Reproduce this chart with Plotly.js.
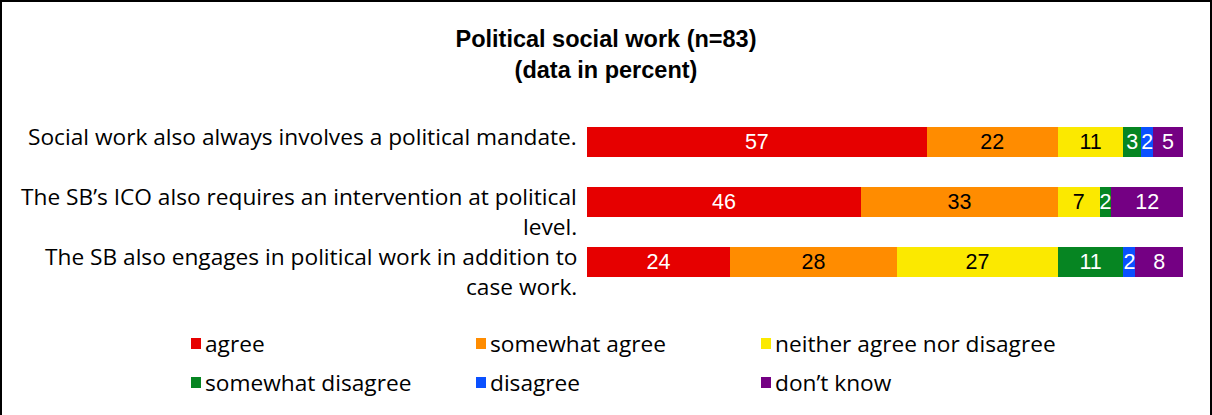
<!DOCTYPE html>
<html>
<head>
<meta charset="utf-8">
<script src="https://cdn.plot.ly/plotly-3.0.1.min.js"></script>
<style>
  html, body { margin: 0; padding: 0; background: #fff; }
  #wrap { position: relative; width: 1212px; height: 415px; }
  #chart { position: absolute; left: 0; top: 0; width: 1212px; height: 415px; }
  #frame { position: absolute; left: 0; top: 0; width: 1208px; height: 415px;
           border-left: 2px solid #000; border-top: 2px solid #000; border-right: 2px solid #000;
           box-sizing: content-box; pointer-events: none; }
</style>
</head>
<body>
<div id="wrap"><div id="chart"></div><div id="frame"></div></div>
<script>
// ---- data ----
const categories = [
  "Social work also always involves a political mandate.",
  "The SB\u2019s ICO also requires an intervention at political<br>level.",
  "The SB also engages in political work in addition to<br>case work."
];
const seriesNames = ["agree", "somewhat agree", "neither agree nor disagree",
                     "somewhat disagree", "disagree", "don\u2019t know"];
const agree            = [57, 46, 24];
const somewhatAgree    = [22, 33, 28];
const neither          = [11, 7, 27];
const somewhatDisagree = [3, 2, 11];
const disagree         = [2, 0, 2];
const dontKnow         = [5, 12, 8];
const seriesValues = [agree, somewhatAgree, neither, somewhatDisagree, disagree, dontKnow];

// ---- styles ----
const colors = ["#E60000", "#FF8C00", "#FBE900", "#068522", "#0A50FF", "#740083"];
const textColors = ["#ffffff", "#000000", "#000000", "#ffffff", "#ffffff", "#ffffff"];
const labelFont = "'Open Sans', Lato, sans-serif";
const arialFont = "'Liberation Sans', Arial, sans-serif";

const W = 1212, H = 415;
const m = {l: 587, r: 29, t: 112, b: 123};
const plotW = W - m.l - m.r, plotH = H - m.t - m.b;
const px2x = px => (px - m.l) / plotW;
const py2y = py => (H - m.b - py) / plotH;

const traces = seriesNames.map((name, i) => ({
  type: "bar",
  orientation: "h",
  name: name,
  y: categories,
  x: seriesValues[i],
  marker: {color: colors[i], line: {width: 0}},
  text: seriesValues[i].map(v => v > 0 ? String(v) : ""),
  textposition: "inside",
  insidetextanchor: "middle",
  textangle: 0,
  constraintext: "none",
  textfont: {family: arialFont, size: 21.5, color: textColors[i]},
  hoverinfo: "name+x",
  showlegend: false
}));

const annotations = [];
const shapes = [];

// category labels (split lines for Calibri-like line spacing)
categories.forEach(cat => {
  cat.split("<br>").forEach((line, k) => {
    annotations.push({
      xref: "paper", yref: "y", x: 0, y: cat,
      xanchor: "right", yanchor: "middle", xshift: -8, yshift: 6 - k * 30,
      text: line, showarrow: false,
      font: {family: labelFont, size: 22.7, color: "#000"}
    });
  });
});

// legend (3 columns x 2 rows)
const legColX = [206, 491, 776];
const legRowY = [343, 382];
seriesNames.forEach((name, i) => {
  const tx = legColX[i % 3], ty = legRowY[Math.floor(i / 3)];
  shapes.push({
    type: "rect", xref: "paper", yref: "paper",
    x0: px2x(tx - 15), x1: px2x(tx - 5),
    y0: py2y(ty + 6), y1: py2y(ty - 5),
    fillcolor: colors[i], line: {width: 0}
  });
  annotations.push({
    xref: "paper", yref: "paper", x: px2x(tx - 3), y: py2y(ty),
    xanchor: "left", yanchor: "middle",
    text: name, showarrow: false,
    font: {family: labelFont, size: 22.7, color: "#000"}
  });
});

const layout = {
  width: W, height: H,
  margin: m,
  paper_bgcolor: "#fff", plot_bgcolor: "#fff",
  barmode: "stack",
  bargap: 0.5,
  title: {
    text: "<b>Political social work (n=83)<br>(data in percent)</b>",
    x: 0.5, xref: "container", xanchor: "center",
    y: 1 - 47 / H, yref: "container", yanchor: "middle",
    font: {family: arialFont, size: 23.5, color: "#000"}
  },
  xaxis: {range: [0, 100], visible: false, fixedrange: true},
  yaxis: {type: "category", autorange: "reversed", visible: false, fixedrange: true},
  annotations: annotations,
  shapes: shapes,
  showlegend: false
};

Plotly.newPlot("chart", traces, layout, {displayModeBar: false, staticPlot: true});
</script>
</body>
</html>
